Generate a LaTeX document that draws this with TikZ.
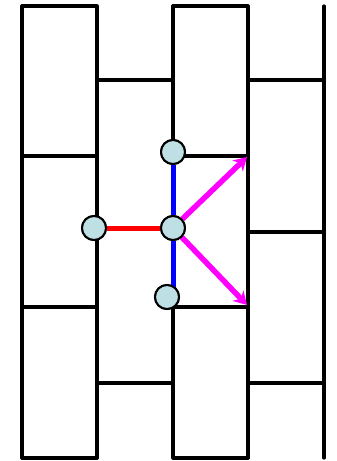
\documentclass[tikz,border=0pt]{standalone}
\usetikzlibrary{arrows.meta}
\definecolor{nodefill}{RGB}{190,224,228}
\definecolor{mag}{RGB}{255,0,255}
\tikzset{
  wall/.style={line width=3.2pt, line cap=round, line join=round},
  pt/.style={circle, draw=black, line width=2pt, fill=nodefill, minimum size=24pt, inner sep=0pt},
  redl/.style={red, line width=5pt},
  bluel/.style={blue, line width=5pt},
  magl/.style={mag, line width=5.5pt, -{Stealth[length=13pt,width=15pt]}}
}
\begin{document}
\begin{tikzpicture}[x=1pt,y=-1pt]
\useasboundingbox (0,0) rectangle (337,461);
% walls
\draw[wall] (22,458) -- (22,6) -- (97,6) -- (97,458);
\draw[wall] (22,458) -- (97,458);
\draw[wall] (173,152) -- (173,6) -- (248,6) -- (248,458);
\draw[wall] (173,307) -- (173,458) -- (248,458);
\draw[wall] (324,6) -- (324,458);
\draw[wall] (97,80) -- (173,80);
\draw[wall] (248,80) -- (324,80);
\draw[wall] (22,156) -- (97,156);
\draw[wall] (173,156) -- (248,156);
\draw[wall] (248,232) -- (324,232);
\draw[wall] (22,307) -- (97,307);
\draw[wall] (173,307) -- (248,307);
\draw[wall] (97,383) -- (173,383);
\draw[wall] (248,383) -- (324,383);
% targets
\coordinate (t1) at (247,157);
\coordinate (t2) at (247,305);
% nodes
\node[pt] (n1) at (173,152) {};
\node[pt] (n2) at (94,228) {};
\node[pt] (n3) at (173,228) {};
\node[pt] (n4) at (167,297) {};
% connectors
\draw[redl] (n2) -- (n3);
\draw[bluel] (n1) -- (n3);
\draw[bluel] (n3.south) -- (173,290);
\draw[magl] (n3) -- (t1);
\draw[magl] (n3) -- (t2);
% redraw nodes on top
\node[pt] at (173,152) {};
\node[pt] at (94,228) {};
\node[pt] at (173,228) {};
\node[pt] at (167,297) {};
\end{tikzpicture}
\end{document}
